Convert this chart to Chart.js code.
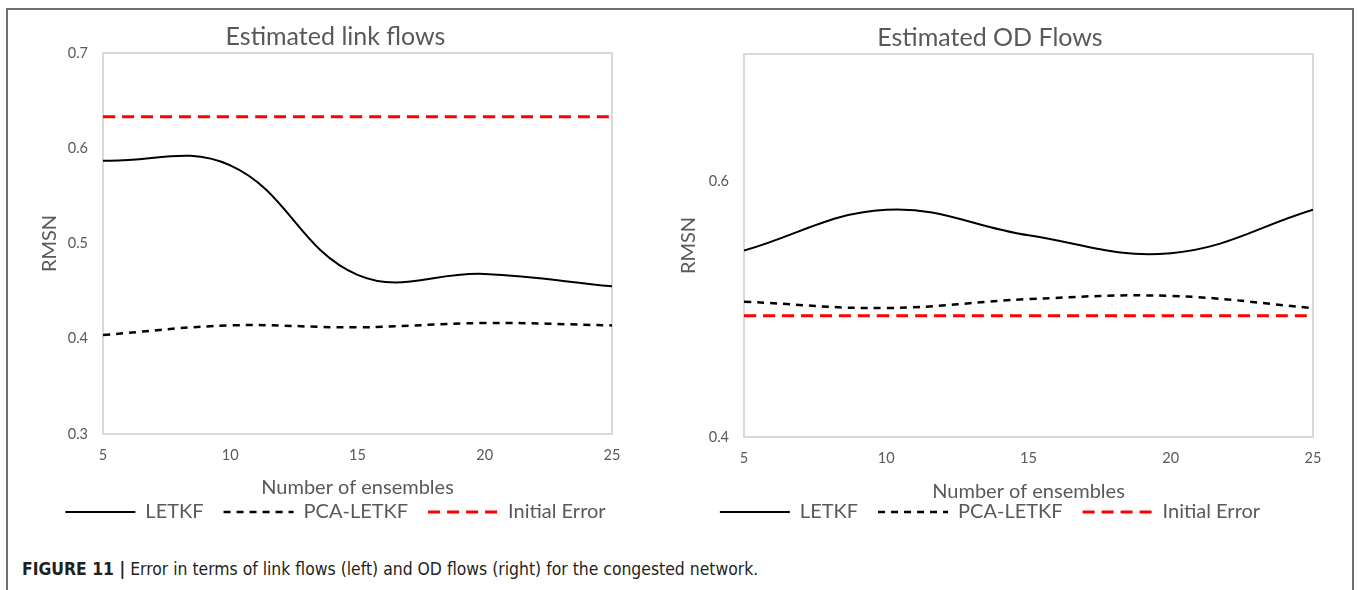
<!DOCTYPE html>
<html>
<head>
<meta charset="utf-8">
<script src="https://cdn.jsdelivr.net/npm/chart.js@4.4.1/dist/chart.umd.min.js"></script>
<style>
  html, body { margin: 0; padding: 0; background: #fff; }
  body { width: 1358px; height: 590px; position: relative; overflow: hidden; }
  #frame { position: absolute; left: 6px; top: 8px; width: 1348px; height: 620px;
           border: 2px solid #707070; border-bottom: none; box-sizing: border-box; }
  .box { position: absolute; top: 0; height: 532px; }
  #leftBox { left: 8px; width: 655px; }
  #rightBox { left: 645px; width: 690px; }
  #caption { position: absolute; left: 22px; top: 559px; white-space: nowrap;
             font-family: "DejaVu Sans Condensed", "Liberation Sans", sans-serif;
             font-size: 17.4px; color: #231f20; }
  #caption b { font-weight: bold; }
</style>
</head>
<body>
<div id="frame"></div>
<div class="box" id="leftBox"><canvas id="linkChart" width="655" height="532"></canvas></div>
<div class="box" id="rightBox"><canvas id="odChart" width="690" height="532"></canvas></div>
<div id="caption"><b>FIGURE 11 |</b> Error in terms of link flows (left) and OD flows (right) for the congested network.</div>

<script>
// values
const ENSEMBLES = [5, 10, 15, 20, 25];
const SERIES_NAMES = ['LETKF', 'PCA-LETKF', 'Initial Error'];

const LINK_LETKF   = [0.587, 0.582, 0.467, 0.468, 0.455];
const LINK_PCA     = [0.404, 0.414, 0.412, 0.4165, 0.414];
const LINK_INITIAL = [0.633, 0.633, 0.633, 0.633, 0.633];

const OD_LETKF   = [0.546, 0.578, 0.558, 0.544, 0.578];
const OD_PCA     = [0.506, 0.501, 0.508, 0.5105, 0.501];
const OD_INITIAL = [0.495, 0.495, 0.495, 0.495, 0.495];

const X_TICKS = [5, 10, 15, 20, 25];
const LINK_Y_TICKS = [0.3, 0.4, 0.5, 0.6, 0.7];
const OD_Y_TICKS = [0.4, 0.6];

const GREY = '#595959';
const FONT = 'Lato, "Open Sans", sans-serif';

// light grey box around the plot area
const plotFrame = {
    id: 'plotFrame',
    beforeDatasetsDraw(chart) {
        const { ctx, chartArea: a } = chart;
        ctx.save();
        ctx.strokeStyle = '#d9d9d9';
        ctx.lineWidth = 2;
        ctx.strokeRect(a.left, a.top, a.right - a.left, a.bottom - a.top);
        ctx.restore();
    }
};

function toPoints(values) {
    return ENSEMBLES.map((x, i) => ({ x: x, y: values[i] }));
}

function renderChart(canvasId, title, series, yRange, yTicks, lay) {
    const ctx = document.getElementById(canvasId);
    const styles = [
        { borderColor: '#000000', borderWidth: 2, borderDash: [] },
        { borderColor: '#000000', borderWidth: 2.5, borderDash: [7, 6] },
        { borderColor: '#ff0000', borderWidth: 3, borderDash: [12, 7] }
    ];

    return new Chart(ctx, {
        type: 'line',
        data: {
            datasets: series.map((vals, i) => Object.assign({
                label: SERIES_NAMES[i],
                data: toPoints(vals),
                pointRadius: 0,
                tension: 0.4,
                fill: false
            }, styles[i]))
        },
        options: {
            responsive: false,
            animation: false,
            devicePixelRatio: 1,
            layout: { padding: 0 },
            plugins: {
                title: {
                    display: true,
                    text: title,
                    color: GREY,
                    font: { family: FONT, size: 25, weight: 'normal' },
                    padding: lay.titlePad
                },
                legend: {
                    position: 'bottom',
                    labels: {
                        usePointStyle: true,
                        pointStyleWidth: 70,
                        padding: 20,
                        color: GREY,
                        font: { family: FONT, size: 20 },
                        generateLabels(chart) {
                            return chart.data.datasets.map((ds, i) => ({
                                text: ds.label,
                                strokeStyle: ds.borderColor,
                                fillStyle: 'rgba(0,0,0,0)',
                                lineWidth: ds.borderWidth,
                                lineDash: ds.borderDash,
                                pointStyle: 'line',
                                fontColor: GREY,
                                hidden: false,
                                datasetIndex: i
                            }));
                        }
                    }
                },
                tooltip: { enabled: false }
            },
            scales: {
                x: {
                    type: 'linear',
                    min: 5,
                    max: 25,
                    grid: { display: false },
                    border: { display: false },
                    afterBuildTicks(s) { s.ticks = X_TICKS.map(v => ({ value: v })); },
                    afterFit(s) { s.height = lay.xAxisHeight; },
                    ticks: {
                        color: GREY,
                        padding: lay.xTickPad,
                        font: { family: FONT, size: 14.5 },
                        maxRotation: 0
                    },
                    title: {
                        display: true,
                        text: 'Number of ensembles',
                        color: GREY,
                        font: { family: FONT, size: 20 },
                        padding: { top: 0, bottom: lay.xTitlePad }
                    }
                },
                y: {
                    min: yRange[0],
                    max: yRange[1],
                    grid: { display: false },
                    border: { display: false },
                    afterBuildTicks(s) { s.ticks = yTicks.map(v => ({ value: v })); },
                    afterFit(s) { s.width = lay.yAxisWidth; },
                    ticks: {
                        color: GREY,
                        padding: 7,
                        font: { family: FONT, size: 14.5 },
                        callback: v => v.toFixed(1)
                    },
                    title: {
                        display: true,
                        text: 'RMSN',
                        color: GREY,
                        font: { family: FONT, size: 20 },
                        padding: { top: lay.yTitlePad, bottom: 0 }
                    }
                },
                // empty axis on the right, only keeps the gap after the plot
                y2: {
                    position: 'right',
                    grid: { display: false },
                    border: { display: false },
                    ticks: { display: false },
                    afterFit(s) { s.width = lay.rightGap; }
                }
            }
        },
        plugins: [plotFrame]
    });
}

renderChart('linkChart', 'Estimated link flows',
    [LINK_LETKF, LINK_PCA, LINK_INITIAL], [0.3, 0.7], LINK_Y_TICKS,
    { titlePad: { top: 22, bottom: 1 }, xAxisHeight: 48, xTickPad: 5, xTitlePad: -18,
      yAxisWidth: 95, yTitlePad: 30, rightGap: 51 });

renderChart('odChart', 'Estimated OD Flows',
    [OD_LETKF, OD_PCA, OD_INITIAL], [0.4, 0.7], OD_Y_TICKS,
    { titlePad: { top: 23, bottom: 1 }, xAxisHeight: 45, xTickPad: 5, xTitlePad: -22,
      yAxisWidth: 99, yTitlePad: 32, rightGap: 22 });
</script>
</body>
</html>
